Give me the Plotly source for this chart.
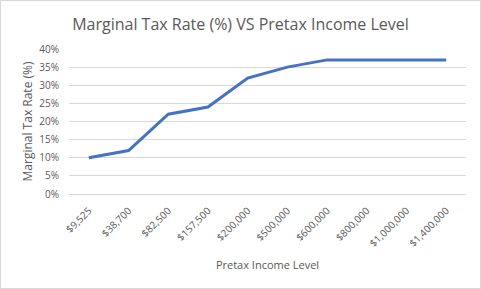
import plotly.graph_objects as go

categories = ["$9,525", "$38,700", "$82,500", "$157,500", "$200,000",
              "$500,000", "$600,000", "$800,000", "$1,000,000", "$1,400,000"]
rates = [0.10, 0.12, 0.22, 0.24, 0.32, 0.35, 0.37, 0.37, 0.37, 0.37]
y_ticks = [0, 0.05, 0.10, 0.15, 0.20, 0.25, 0.30, 0.35, 0.40]

W, H = 481, 289
ml, mr, mt, mb = 69, 15, 49, 95
pw, ph = W - ml - mr, H - mt - mb

fig = go.Figure()
fig.add_trace(go.Scatter(x=categories, y=rates, mode="lines",
                         line=dict(color="#4472C4", width=3)))

font = "Open Sans"
fig.update_layout(
    width=W, height=H,
    margin=dict(l=ml, r=mr, t=mt, b=mb),
    paper_bgcolor="white", plot_bgcolor="white",
    showlegend=False,
    title=dict(text="Marginal Tax Rate (%) VS Pretax Income Level",
               x=0.5, xanchor="center", y=1 - 24 / H, yanchor="middle",
               font=dict(family=font, size=16, color="#595959")),
    xaxis=dict(type="category", tickangle=-45, showgrid=False,
               range=[-0.5, len(categories) - 0.5],
               showline=True, linecolor="#d9d9d9", ticks="",
               ticklabelstandoff=6,
               tickfont=dict(family=font, size=10, color="#595959"),
               title=dict(text="Pretax Income Level",
                          font=dict(family=font, size=11, color="#595959"),
                          standoff=12)),
    yaxis=dict(range=[0, 0.40], tickvals=y_ticks, tickformat=".0%",
               showgrid=True, gridcolor="#d9d9d9", zeroline=False,
               showline=False, ticks="",
               ticklabelstandoff=9,
               tickfont=dict(family=font, size=10, color="#595959"),
               title=dict(text="Marginal Tax Rate (%)",
                          font=dict(family=font, size=12, color="#595959"),
                          standoff=4)),
    shapes=[dict(type="rect", xref="paper", yref="paper",
                 x0=-(ml - 0.5) / pw, x1=1 + (mr - 0.5) / pw,
                 y0=-(mb - 0.5) / ph, y1=1 + (mt - 0.5) / ph,
                 line=dict(color="#d9d9d9", width=1))],
)
fig.write_html("out.html")
